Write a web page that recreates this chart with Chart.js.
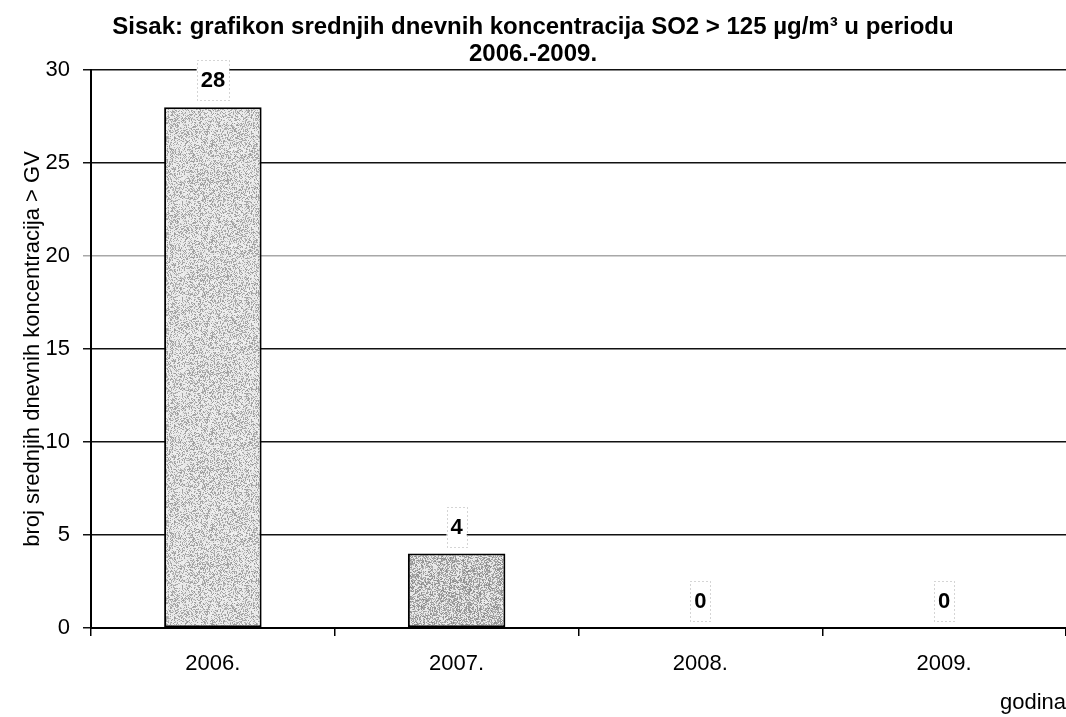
<!DOCTYPE html>
<html><head><meta charset="utf-8">
<script src="https://cdn.jsdelivr.net/npm/chart.js@4.4.1/dist/chart.umd.min.js"></script>
<style>html,body{margin:0;padding:0;background:#fff}#wrap{width:1066px;height:717px;position:relative}canvas{display:block}</style>
</head><body><div id="wrap"><canvas id="c" width="1066" height="717"></canvas></div>
<script>
const titleLines = ['Sisak: grafikon srednjih dnevnih koncentracija SO2 > 125 µg/m³ u periodu', '2006.-2009.'];
const categories = ['2006.', '2007.', '2008.', '2009.'];
const values = [28, 4, 0, 0];
const yTickValues = [0, 5, 10, 15, 20, 25, 30];
const yAxisTitle = 'broj srednjih dnevnih koncentracija > GV';
const xAxisTitle = 'godina';

const FONT = "'Liberation Sans', Arial, sans-serif";

function stipple(light, seed) {
  const size = 96;
  const cv = document.createElement('canvas');
  cv.width = size; cv.height = size;
  const g = cv.getContext('2d');
  const img = g.createImageData(size, size);
  let s = seed >>> 0;
  for (let i = 0; i < size * size; i++) {
    s = (s * 1664525 + 1013904223) >>> 0;
    const r = s / 4294967296;
    let v = r < light ? 225 + Math.floor(r * 30) : 90 + Math.floor(r * 100);
    img.data[i * 4] = v; img.data[i * 4 + 1] = v; img.data[i * 4 + 2] = v; img.data[i * 4 + 3] = 255;
  }
  g.putImageData(img, 0, 0);
  return g.createPattern(cv, 'repeat');
}
const barFills = [stipple(0.62, 12345), stipple(0.45, 777), stipple(0.5, 3), stipple(0.5, 9)];

const valueLabels = {
  id: 'valueLabels',
  afterDatasetsDraw(chart) {
    const ctx = chart.ctx;
    const meta = chart.getDatasetMeta(0);
    const data = chart.data.datasets[0].data;
    ctx.save();
    ctx.font = "bold 22px " + FONT;
    ctx.textAlign = 'center';
    ctx.textBaseline = 'middle';
    meta.data.forEach((bar, i) => {
      const txt = String(data[i]);
      const cx = bar.x, cy = bar.y - 27;
      const w = ctx.measureText(txt).width + 8, h = 40;
      ctx.fillStyle = '#fff';
      ctx.fillRect(cx - w / 2, cy - h / 2, w, h);
      ctx.setLineDash([1, 3]);
      ctx.strokeStyle = '#aaa';
      ctx.lineWidth = 1;
      ctx.strokeRect(Math.round(cx - w / 2) + 0.5, Math.round(cy - h / 2) + 0.5, Math.round(w), h);
      ctx.setLineDash([]);
      ctx.fillStyle = '#000';
      ctx.fillText(txt, cx, cy + 1);
    });
    ctx.restore();
  }
};

new Chart(document.getElementById('c'), {
  type: 'bar',
  data: {
    labels: categories,
    datasets: [{
      data: values,
      backgroundColor: barFills,
      borderColor: '#000',
      borderWidth: 2,
      borderSkipped: false,
      barPercentage: 0.4,
      categoryPercentage: 1.0
    }]
  },
  options: {
    responsive: false,
    animation: false,
    devicePixelRatio: 1,
    layout: { padding: { left: 0, right: 0, top: 0, bottom: 0 } },
    plugins: {
      legend: { display: false },
      tooltip: { enabled: false },
      title: {
        display: true,
        text: titleLines,
        color: '#000',
        font: { family: FONT, size: 24, weight: 'bold', lineHeight: 1.125 },
        padding: { top: 14, bottom: 2 }
      }
    },
    scales: {
      x: {
        afterFit(scale) { scale.height = 89; },
        grid: { display: true, drawOnChartArea: false, drawTicks: true, tickLength: 8, color: '#000', offset: true, lineWidth: 1.5 },
        border: { display: true, color: '#000', width: 2 },
        ticks: { color: '#000', font: { family: FONT, size: 22 }, padding: 15, maxRotation: 0 },
        title: { display: true, text: xAxisTitle, align: 'end', color: '#000', font: { family: FONT, size: 22 }, padding: { top: 0, bottom: 1 } }
      },
      y: {
        min: 0, max: 30,
        afterFit(scale) { scale.width = 91; },
        afterBuildTicks(scale) { scale.ticks = yTickValues.map(v => ({ value: v })); },
        grid: {
          drawTicks: true, tickLength: 8,
          color: (c) => (c.tick && c.tick.value === 20) ? '#a8a8a8' : '#111',
          lineWidth: 1.5
        },
        border: { display: true, color: '#000', width: 2 },
        ticks: { color: '#000', font: { family: FONT, size: 22 }, padding: 13 },
        title: { display: true, text: yAxisTitle, color: '#000', font: { family: FONT, size: 22 }, padding: { top: 20, bottom: 0 } }
      }
    }
  },
  plugins: [valueLabels]
});
</script>
</body></html>
